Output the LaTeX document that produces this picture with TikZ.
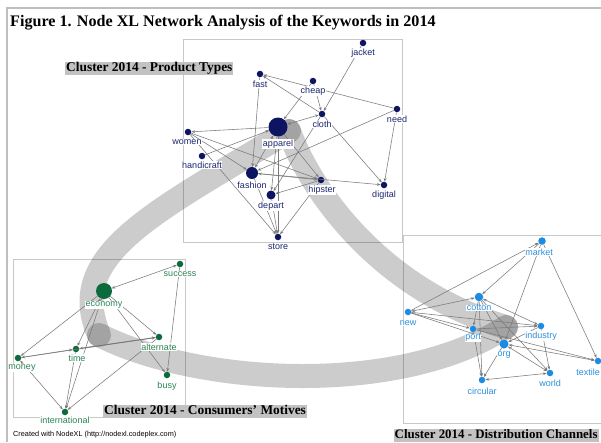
\documentclass[tikz,border=0pt]{standalone}
\usepackage{fontspec}
\setmainfont{Liberation Serif}
\setsansfont{Liberation Sans}
\usetikzlibrary{arrows.meta}

\definecolor{pnode}{HTML}{0D1563}
\definecolor{plabel}{HTML}{1B2670}
\definecolor{cnode}{HTML}{0C6B3C}
\definecolor{clabel}{HTML}{2B8452}
\definecolor{dnode}{HTML}{1C8BE3}
\definecolor{dlabel}{HTML}{2A8FDB}
\definecolor{edgegray}{HTML}{7A7A7A}
\definecolor{boxgray}{HTML}{C8C8C8}
\definecolor{framegray}{HTML}{BEBEBE}
\definecolor{tagfill}{HTML}{C2C2C2}

\tikzset{
  dotnode/.style={circle, inner sep=0pt, minimum size=6.5pt},
  pdot/.style={dotnode, fill=pnode},
  cdot/.style={dotnode, fill=cnode},
  ddot/.style={dotnode, fill=dnode},
  lbl/.style={font=\sffamily\fontsize{9}{9}\selectfont, fill=white, inner sep=0.5pt},
  plbl/.style={lbl, text=plabel},
  clbl/.style={lbl, text=clabel},
  dlbl/.style={lbl, text=dlabel},
  link/.style={draw=edgegray, line width=0.55pt, -{Stealth[length=3.6pt,width=2.8pt]}},
  twoway/.style={draw=edgegray, line width=0.55pt, {Stealth[length=3.6pt,width=2.8pt]}-{Stealth[length=3.6pt,width=2.8pt]}},
  clusterbox/.style={draw=boxgray, line width=0.8pt},
  band/.style={draw=black, draw opacity=0.2, line width=24pt, line cap=round},
  tag/.style={fill=tagfill, font=\bfseries\fontsize{13.4}{13.4}\selectfont, inner xsep=1pt, inner ysep=0pt, text height=10pt, text depth=3.5pt}
}

\begin{document}
\begin{tikzpicture}[x=1pt, y=-1pt]
\useasboundingbox (0,0) rectangle (601,442);
\fill[white] (0,0) rectangle (601,442);

% outer frame
\draw[framegray, line width=1.6pt] (601,8) -- (7,8) -- (7,442);

% title
\node[anchor=base west, inner sep=0pt, font=\bfseries\fontsize{16.1}{16.1}\selectfont] (title) at (10,26.3)
  {Figure 1. Node XL Network Analysis of the Keywords in 2014};

% cluster frames
\draw[clusterbox] (183,39) rectangle (402,242);
\draw[clusterbox] (13,259) rectangle (185,417);
\draw[clusterbox] (612,235) -- (403,235) -- (403,423) -- (612,423);

% group links between clusters
\coordinate (bandC) at (99,335);
\coordinate (bandP) at (289,131);
\coordinate (bandD) at (506,327);
\draw[band] (bandC) .. controls (65,255) and (150,215) .. (bandP);
\draw[band] (bandP) .. controls (310,190) and (380,290) .. (bandD);
\draw[band] (bandC) .. controls (200,386) and (400,396) .. (bandD);

% Product Types vertices
\node[pdot] (jacket) at (363,43) {};
\node[pdot] (fast) at (260,74) {};
\node[pdot] (cheap) at (313,81) {};
\node[pdot] (need) at (397,109) {};
\node[pdot] (cloth) at (322,114) {};
\node[pdot, minimum size=19pt] (apparel) at (278,127) {};
\node[pdot] (women) at (188,132) {};
\node[pdot] (handicraft) at (202,156) {};
\node[pdot, minimum size=12pt] (fashion) at (252,173) {};
\node[pdot] (hipster) at (321,180) {};
\node[pdot] (digital) at (384,185) {};
\node[pdot, minimum size=9pt] (depart) at (271,195) {};
\node[pdot] (store) at (278,237) {};

% Consumers' Motives vertices
\node[cdot] (success) at (180,264) {};
\node[cdot, minimum size=16pt] (economy) at (104,291) {};
\node[cdot] (alternate) at (159,337) {};
\node[cdot] (time) at (76,349) {};
\node[cdot] (money) at (18,358) {};
\node[cdot] (busy) at (167,375) {};
\node[cdot] (international) at (65,412) {};

% Distribution Channels vertices
\node[ddot, minimum size=7.5pt] (market) at (542,241) {};
\node[ddot, minimum size=8.5pt] (cotton) at (479,297) {};
\node[ddot] (new) at (408,312) {};
\node[ddot] (port) at (473,329) {};
\node[ddot] (industry) at (541,326) {};
\node[ddot, minimum size=9pt] (org) at (504,344) {};
\node[ddot] (textile) at (598,361) {};
\node[ddot] (world) at (550,373) {};
\node[ddot] (circular) at (482,380) {};

% Product Types edges
\draw[link] (jacket) -- (cloth);
\draw[link] (cheap) -- (apparel);
\draw[link] (cheap) -- (cloth);
\draw[link] (need) -- (fast);
\draw[link] (cloth) -- (fast);
\draw[twoway] (cloth) -- (apparel);
\draw[link] (fast) -- (fashion);
\draw[link] (need) -- (fashion);
\draw[link] (need) -- (digital);
\draw[link] (cloth) -- (digital);
\draw[link] (cloth) -- (depart);
\draw[link] (apparel) -- (women);
\draw[link] (handicraft) -- (apparel);
\draw[link] (women) -- (fashion);
\draw[link] (women) -- (hipster);
\draw[link] (women) -- (store);
\draw[twoway] (apparel) -- (fashion);
\draw[link] (apparel) -- (depart);
\draw[link] (apparel) -- (store);
\draw[link] (apparel) -- (hipster);
\draw[twoway] (hipster) -- (fashion);
\draw[link] (fashion) -- (digital);
\draw[link] (hipster) -- (depart);
\draw[link] (hipster) -- (store);
\draw[link] (fashion) -- (store);
\draw[link] (depart) -- (store);

% Consumers' Motives edges
\draw[twoway] (success) -- (economy);
\draw[link] (success) -- (busy);
\draw[link] (economy) -- (money);
\draw[twoway] (economy) -- (time);
\draw[link] (economy) -- (international);
\draw[link] (economy) -- (alternate);
\draw[link] (economy) -- (busy);
\draw[twoway, line width=0.9pt] (time) -- (alternate);
\draw[twoway] (money) -- (time);
\draw[link] (money) -- (alternate);
\draw[link] (alternate) -- (international);
\draw[twoway] (money) -- (international);
\draw[link] (time) -- (international);

% Distribution Channels edges
\draw[link] (new) -- (market);
\draw[link] (market) -- (cotton);
\draw[link] (market) -- (org);
\draw[link] (market) -- (textile);
\draw[twoway] (new) -- (cotton);
\draw[link] (new) -- (industry);
\draw[link] (new) -- (org);
\draw[link] (new) -- (port);
\draw[twoway] (cotton) -- (industry);
\draw[link] (cotton) -- (port);
\draw[link] (cotton) -- (org);
\draw[link] (cotton) -- (world);
\draw[link] (cotton) -- (circular);
\draw[link] (port) -- (circular);
\draw[link] (port) -- (industry);
\draw[link] (port) -- (textile);
\draw[twoway] (org) -- (textile);
\draw[twoway] (org) -- (world);
\draw[link] (org) -- (circular);
\draw[link] (industry) -- (world);
\draw[link] (industry) -- (org);
\draw[twoway] (circular) -- (world);

% vertex labels
\node[plbl] (l-jacket) at (363,53) {jacket};
\node[plbl] (l-fast) at (260,84) {fast};
\node[plbl] (l-cheap) at (313,91) {cheap};
\node[plbl] (l-need) at (397,119) {need};
\node[plbl] (l-cloth) at (322,124) {cloth};
\node[plbl] (l-apparel) at (278,144) {apparel};
\node[plbl] (l-women) at (187,142) {women};
\node[plbl] (l-handicraft) at (202,165) {handicraft};
\node[plbl] (l-fashion) at (252,185) {fashion};
\node[plbl] (l-hipster) at (322,190) {hipster};
\node[plbl] (l-digital) at (384,195) {digital};
\node[plbl] (l-depart) at (271,206) {depart};
\node[plbl] (l-store) at (278,247) {store};

\node[clbl] (l-success) at (180,274) {success};
\node[clbl] (l-economy) at (104,305) {economy};
\node[clbl] (l-alternate) at (159,347) {alternate};
\node[clbl] (l-time) at (77,358) {time};
\node[clbl] (l-money) at (22,368) {money};
\node[clbl] (l-busy) at (167,386) {busy};
\node[clbl] (l-international) at (65,420) {international};

\node[dlbl] (l-market) at (539,252) {market};
\node[dlbl] (l-cotton) at (479,308) {cotton};
\node[dlbl] (l-new) at (408,323) {new};
\node[dlbl] (l-port) at (473,338) {port};
\node[dlbl] (l-industry) at (541,336) {industry};
\node[dlbl] (l-org) at (504,355) {org};
\node[dlbl, anchor=east] (l-textile) at (600.5,372) {textile};
\node[dlbl] (l-world) at (550,383) {world};
\node[dlbl] (l-circular) at (482,391) {circular};

% cluster captions
\node[tag, anchor=west] (tagP) at (65,68.5) {Cluster 2014 - Product Types};
\node[tag, anchor=west] (tagC) at (103,411.5) {Cluster 2014 - Consumers' Motives};
\node[tag, anchor=west, font=\bfseries\fontsize{12.9}{12.9}\selectfont] (tagD) at (393.5,435.5) {Cluster 2014 - Distribution Channels};

% credit line
\node[anchor=west, inner sep=0pt, font=\sffamily\fontsize{7.3}{7.3}\selectfont] (credit) at (13,434.5)
  {Created with NodeXL (http://nodexl.codeplex.com)};
\end{tikzpicture}
\end{document}
